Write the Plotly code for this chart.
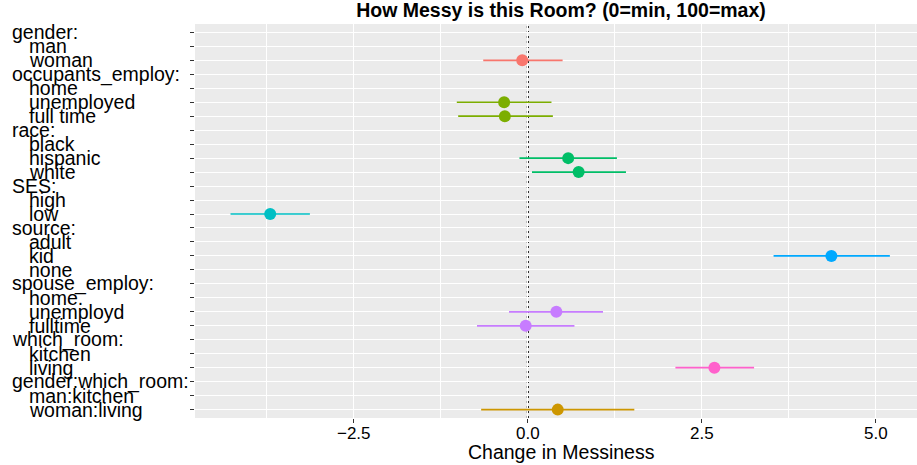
import plotly.graph_objects as go

# ---- data ----
row_labels = ["gender:", "man", "woman",
              "occupants_employ:", "home", "unemployed", "full time",
              "race:", "black", "hispanic", "white",
              "SES:", "high", "low",
              "source:", "adult", "kid", "none",
              "spouse_employ:", "home.", "unemployd", "fulltime",
              "which_room:", "kitchen", "living",
              "gender:which_room:", "man:kitchen", "woman:living"]

term_labels = ["woman", "unemployed", "full time", "hispanic", "white", "low",
               "kid", "unemployd", "fulltime", "living", "woman:living"]
term_groups = ["gender", "occupants_employ", "occupants_employ", "race", "race", "SES",
               "source", "spouse_employ", "spouse_employ", "which_room", "gender:which_room"]
estimates = [-0.08, -0.34, -0.33, 0.58, 0.73, -3.70, 4.36, 0.41, -0.03, 2.68, 0.43]
ci_low    = [-0.64, -1.02, -1.00, -0.12, 0.06, -4.27, 3.53, -0.27, -0.73, 2.12, -0.67]
ci_high   = [0.50, 0.34, 0.36, 1.28, 1.41, -3.13, 5.20, 1.08, 0.67, 3.25, 1.53]

group_names = ["gender", "gender:which_room", "occupants_employ", "race", "SES",
               "source", "spouse_employ", "which_room"]
group_colors = ["#F8766D", "#CD9600", "#7CAE00", "#00BE67", "#00BFC4",
                "#00A9FF", "#C77CFF", "#FF61CC"]

x_ticks = [-2.5, 0.0, 2.5, 5.0]
x_tick_text = ["\u22122.5", "0.0", "2.5", "5.0"]
x_minor = [-3.75, -1.25, 1.25, 3.75]

title_text = "How Messy is this Room? (0=min, 100=max)"
x_title = "Change in Messiness"

# ---- figure ----
W, H = 917, 465
ML, MR, MT, MB = 195, 0, 24, 47
FONT = "Liberation Sans, Arial, Helvetica, sans-serif"

row_index = {lab: i + 1 for i, lab in enumerate(row_labels)}

fig = go.Figure()
for g, col in zip(group_names, group_colors):
    idx = [i for i, tg in enumerate(term_groups) if tg == g]
    if not idx:
        continue
    xs = [estimates[i] for i in idx]
    ys = [row_index[term_labels[i]] for i in idx]
    plus = [ci_high[i] - estimates[i] for i in idx]
    minus = [estimates[i] - ci_low[i] for i in idx]
    fig.add_trace(go.Scatter(
        x=xs, y=ys, mode="markers",
        marker=dict(color=col, size=12, line=dict(width=0)),
        error_x=dict(type="data", symmetric=False, array=plus, arrayminus=minus,
                     color=col, thickness=1.7, width=0),
        showlegend=False, hoverinfo="x+y"))

fig.add_shape(type="line", xref="x", yref="paper", x0=0, x1=0, y0=0, y1=1,
              line=dict(color="black", width=2, dash="2px,3px"), layer="between")

plot_w = W - ML - MR
plot_h = H - MT - MB
for lab in row_labels:
    is_header = lab.endswith(":")
    px = 10 if is_header else 27
    fig.add_annotation(text=lab, xref="paper", yref="y",
                       x=(px - ML) / plot_w, y=row_index[lab],
                       xanchor="left", yanchor="middle", showarrow=False,
                       font=dict(family=FONT, size=19.5, color="black"))

# x-axis title as annotation (fixed position)
fig.add_annotation(text=x_title, xref="paper", yref="paper",
                   x=(561 - ML) / plot_w, y=-(452 - (H - MB)) / plot_h,
                   xanchor="center", yanchor="middle", showarrow=False,
                   font=dict(family=FONT, size=19.5, color="black"))

fig.update_layout(
    width=W, height=H,
    margin=dict(l=ML, r=MR, t=MT, b=MB, pad=0, autoexpand=False),
    paper_bgcolor="white", plot_bgcolor="#EBEBEB",
    font=dict(family=FONT, color="black"),
    title=dict(text="<b>" + title_text + "</b>", x=(561 - ML) / plot_w, xref="paper",
               xanchor="center", y=1 - 3 / H, yref="container", yanchor="top",
               font=dict(family=FONT, size=19.5, color="black")),
    xaxis=dict(range=[-4.78, 5.59], tickvals=x_ticks, ticktext=x_tick_text,
               automargin=False,
               showgrid=True, gridcolor="white", gridwidth=1.2,
               zeroline=False, showline=False,
               ticks="outside", ticklen=4, tickcolor="#333333", tickwidth=1,
               ticklabelstandoff=-4,
               tickfont=dict(family=FONT, size=17, color="black"),
               minor=dict(tickvals=x_minor, showgrid=True, gridcolor="white",
                          gridwidth=0.7, ticks="")),
    yaxis=dict(range=[len(row_labels) + 0.6, 0.4],
               tickvals=list(range(1, len(row_labels) + 1)),
               automargin=False,
               showticklabels=False, showgrid=True, gridcolor="white", gridwidth=1.2,
               zeroline=False, showline=False,
               ticks="outside", ticklen=4, tickcolor="#333333", tickwidth=1),
)

fig.write_html("out.html",
               config={"displayModeBar": False},
               post_script="document.body.style.margin='0px';document.body.style.padding='0px';")
